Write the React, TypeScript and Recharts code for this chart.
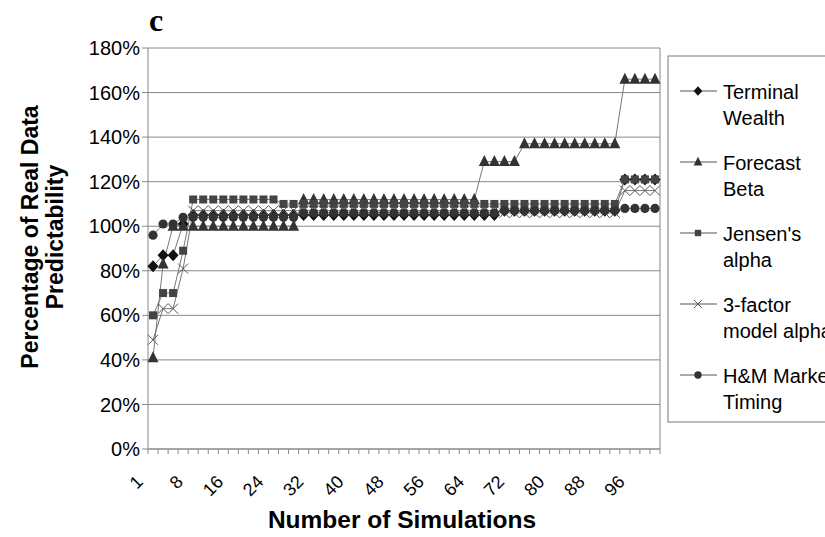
import { LineChart, Line, XAxis, YAxis, CartesianGrid } from 'recharts';

// number of simulations (category axis)
const simulations = [
  1, 2, 4, 6, 8, 10, 12, 14, 16, 18, 20, 22, 24, 26, 28, 30, 32, 34, 36, 38, 40,
  42, 44, 46, 48, 50, 52, 54, 56, 58, 60, 62, 64, 66, 68, 70, 72, 74, 76, 78, 80,
  82, 84, 86, 88, 90, 92, 94, 96, 98, 100,
];

const terminalWealth = [
  82, 87, 87, 101,
  105, 105, 105, 105, 105, 105, 105, 105, 105, 105,
  105, 105, 105, 105, 105, 105, 105, 105, 105, 105,
  105, 105, 105, 105, 105, 105, 105, 105, 105, 105,
  105,
  107, 107, 107, 107, 107, 107, 107, 107, 107, 107, 107, 107,
  121, 121, 121, 121,
];
const forecastBeta = [
  41, 83, 100,
  100, 100, 100, 100, 100, 100, 100, 100, 100, 100, 100, 100,
  112, 112, 112, 112, 112, 112, 112, 112, 112, 112, 112, 112, 112, 112, 112, 112, 112, 112,
  129, 129, 129, 129,
  137, 137, 137, 137, 137, 137, 137, 137, 137, 137,
  166, 166, 166, 166,
];
const jensensAlpha = [
  60, 70, 70, 89,
  112, 112, 112, 112, 112, 112, 112, 112, 112,
  110, 110, 110, 110, 110, 110, 110, 110, 110, 110,
  110, 110, 110, 110, 110, 110, 110, 110, 110, 110,
  110, 110, 110, 110, 110, 110, 110, 110, 110, 110,
  110, 110, 110, 110,
  121, 121, 121, 121,
];
const threeFactorAlpha = [
  49, 63, 63, 81,
  107, 107, 107, 107, 107, 107, 107, 107, 107, 107,
  107, 107, 107, 107, 107, 107, 107, 107, 107, 107,
  107, 107, 107, 107, 107, 107, 107, 107, 107, 107,
  107,
  106, 106, 106, 106, 106, 106, 106, 106, 106, 106, 106, 106,
  116, 116, 116, 116,
];
const hmTiming = [
  96, 101, 101, 104,
  104, 104, 104, 104, 104, 104, 104, 104, 104, 104, 104,
  106, 106, 106, 106, 106, 106, 106, 106, 106, 106,
  106, 106, 106, 106, 106, 106, 106, 106, 106, 106,
  107, 107, 107, 107, 107, 107, 107, 107, 107, 107, 107, 107,
  108, 108, 108, 108,
];

const yTicks = [0, 20, 40, 60, 80, 100, 120, 140, 160, 180];

const data = simulations.map((n, i) => ({
  n,
  tw: terminalWealth[i],
  fb: forecastBeta[i],
  ja: jensensAlpha[i],
  tf: threeFactorAlpha[i],
  hm: hmTiming[i],
}));

type Shape = 'diamond' | 'triangle' | 'square' | 'cross' | 'circle';

const series: { key: string; name: string[]; shape: Shape }[] = [
  { key: 'tw', name: ['Terminal', 'Wealth'], shape: 'diamond' },
  { key: 'fb', name: ['Forecast', 'Beta'], shape: 'triangle' },
  { key: 'ja', name: ["Jensen's", 'alpha'], shape: 'square' },
  { key: 'tf', name: ['3-factor', 'model alpha'], shape: 'cross' },
  { key: 'hm', name: ['H&M Market', 'Timing'], shape: 'circle' },
];

const W = 825;
const H = 537;
const Y_AXIS_W = 60;
const X_AXIS_H = 40;
const plotLeft = 148;
const plotRight = 660;
const plotTop = 48;
const plotBottom = 449;
const margin = {
  top: plotTop,
  right: W - plotRight,
  bottom: H - plotBottom - X_AXIS_H,
  left: plotLeft - Y_AXIS_W,
};
const band = (plotRight - plotLeft) / simulations.length;
const FONT = '"Liberation Sans", Arial, sans-serif';

function Marker({ cx, cy, shape, small }: { cx: number; cy: number; shape: Shape; small?: boolean }) {
  const s = small ? 0.8 : 1;
  switch (shape) {
    case 'diamond':
      return (
        <polygon
          points={`${cx},${cy - 6 * s} ${cx + 5.5 * s},${cy} ${cx},${cy + 6 * s} ${cx - 5.5 * s},${cy}`}
          fill="#111"
        />
      );
    case 'triangle':
      return (
        <polygon
          points={`${cx},${cy - 6.5 * s} ${cx + 5.5 * s},${cy + 4.5 * s} ${cx - 5.5 * s},${cy + 4.5 * s}`}
          fill="#333"
        />
      );
    case 'square':
      return <rect x={cx - 4 * s} y={cy - 4 * s} width={8 * s} height={8 * s} fill="#444" />;
    case 'cross':
      return (
        <path
          d={`M${cx - 5 * s},${cy - 5 * s}L${cx + 5 * s},${cy + 5 * s}M${cx - 5 * s},${cy + 5 * s}L${cx + 5 * s},${cy - 5 * s}`}
          stroke="#555"
          strokeWidth={1}
          fill="none"
        />
      );
    default:
      return <circle cx={cx} cy={cy} r={4.6 * s} fill="#333" />;
  }
}

function SimTick(props: any) {
  const { x, index, payload } = props;
  const left = x - band / 2;
  const ax = x - 9;
  const ay = plotBottom + 34;
  return (
    <g>
      <line x1={left} y1={plotBottom} x2={left} y2={plotBottom + 5} stroke="#888" />
      {index === simulations.length - 1 && (
        <line x1={left + band} y1={plotBottom} x2={left + band} y2={plotBottom + 5} stroke="#888" />
      )}
      {index % 4 === 0 && (
        <text
          x={ax}
          y={ay}
          textAnchor="end"
          transform={`rotate(-45 ${ax} ${ay})`}
          fontSize={18}
          fontFamily={FONT}
          fill="#000"
        >
          {payload.value}
        </text>
      )}
    </g>
  );
}

export default function App() {
  const legendX = 668;
  const legendTop = 56;
  const legendBottom = 422;
  const firstRow = 91;
  const rowGap = 71;

  return (
    <div style={{ position: 'absolute', left: 0, top: 0, width: W, height: H, background: '#fff' }}>
      <LineChart width={W} height={H} data={data} margin={margin}>
        <CartesianGrid stroke="#888" horizontal vertical verticalPoints={[plotRight]} />
        <XAxis
          dataKey="n"
          interval={0}
          tickLine={false}
          tick={<SimTick />}
          axisLine={{ stroke: '#888' }}
          height={X_AXIS_H}
          padding={{ left: band / 2, right: band / 2 }}
        />
        <YAxis
          width={Y_AXIS_W}
          domain={[0, 180]}
          ticks={yTicks}
          tickFormatter={(v) => `${v}%`}
          tickSize={6}
          tickMargin={2}
          axisLine={{ stroke: '#888' }}
          tickLine={{ stroke: '#888' }}
          tick={{ fontSize: 20, fill: '#000', fontFamily: FONT }}
        />
        {series.map((s) => (
          <Line
            key={s.key}
            dataKey={s.key}
            stroke="#777"
            strokeWidth={1}
            isAnimationActive={false}
            dot={(p: any) => <Marker key={`${s.key}-${p.index}`} cx={p.cx} cy={p.cy} shape={s.shape} />}
            activeDot={false}
          />
        ))}
      </LineChart>
      <svg
        width={W}
        height={H}
        style={{ position: 'absolute', left: 0, top: 0, pointerEvents: 'none' }}
      >
        <text x={149} y={31} fontFamily='"Liberation Serif", "Times New Roman", serif' fontWeight="bold" fontSize={32}>
          c
        </text>
        <text
          transform="translate(38 237) rotate(-90)"
          textAnchor="middle"
          fontFamily={FONT}
          fontWeight="bold"
          fontSize={23}
        >
          Percentage of Real Data
        </text>
        <text
          transform="translate(63 237) rotate(-90)"
          textAnchor="middle"
          fontFamily={FONT}
          fontWeight="bold"
          fontSize={23}
        >
          Predictability
        </text>
        <text x={402} y={528} textAnchor="middle" fontFamily={FONT} fontWeight="bold" fontSize={24.5}>
          Number of Simulations
        </text>
        <rect
          x={legendX}
          y={legendTop}
          width={W - legendX + 20}
          height={legendBottom - legendTop}
          fill="#fff"
          stroke="#777"
        />
        {series.map((s, i) => {
          const y = firstRow + i * rowGap;
          return (
            <g key={s.key}>
              <line x1={680} y1={y} x2={717} y2={y} stroke="#555" />
              <Marker cx={698} cy={y} shape={s.shape} small />
              <text x={723} y={y + 8} fontFamily={FONT} fontSize={20}>
                {s.name[0]}
              </text>
              <text x={723} y={y + 34} fontFamily={FONT} fontSize={20}>
                {s.name[1]}
              </text>
            </g>
          );
        })}
      </svg>
    </div>
  );
}
